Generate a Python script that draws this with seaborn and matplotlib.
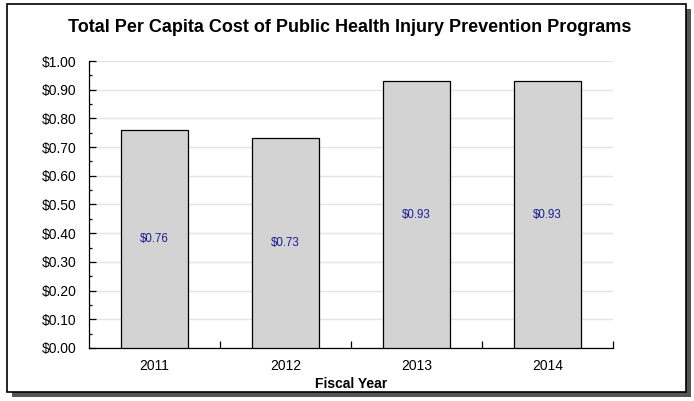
import matplotlib
matplotlib.use('Agg')
import matplotlib.pyplot as plt
import matplotlib.patches as patches
from matplotlib.ticker import MultipleLocator, FuncFormatter
import seaborn as sns
import pandas as pd

years = ['2011', '2012', '2013', '2014']
cost = [0.76, 0.73, 0.93, 0.93]

sns.set_style('white')
plt.rcParams['font.family'] = ['Liberation Sans', 'DejaVu Sans']
plt.rcParams['text.color'] = 'black'
plt.rcParams['axes.labelcolor'] = 'black'
plt.rcParams['xtick.color'] = 'black'
plt.rcParams['ytick.color'] = 'black'

df = pd.DataFrame({'Fiscal Year': years, 'Cost': cost})

fig = plt.figure(figsize=(6.94, 4.01), dpi=100)

# frame with drop shadow
fig.patches.append(patches.Rectangle((12 / 694, 1 - 397 / 401), 679 / 694, 388 / 401,
                                     transform=fig.transFigure, facecolor='#555555',
                                     edgecolor='none', zorder=0))
fig.patches.append(patches.Rectangle((7 / 694, 1 - 392 / 401), 679 / 694, 388 / 401,
                                     transform=fig.transFigure, facecolor='white',
                                     edgecolor='black', linewidth=1.2, zorder=1))

ax = fig.add_axes([89 / 694, 1 - 348 / 401, 524 / 694, 287 / 401])
ax.set_facecolor('none')
ax.set_zorder(5)

sns.barplot(data=df, x='Fiscal Year', y='Cost', color='#d3d3d3', edgecolor='black',
            linewidth=0.9, width=0.51, saturation=1, ax=ax, zorder=3)

for i, v in enumerate(cost):
    ax.text(i, v / 2, f'${v:.2f}', ha='center', va='center', fontsize=8.3,
            color='#1c1c94', zorder=4)

ax.set_ylim(0, 1.0)
ax.set_xlim(-0.5, 3.5)
ax.yaxis.set_major_locator(MultipleLocator(0.1))
ax.yaxis.set_minor_locator(MultipleLocator(0.05))
ax.yaxis.set_major_formatter(FuncFormatter(lambda v, p: f'${v:.2f}'))
ax.grid(axis='y', color='#e4e4e4', linewidth=1, zorder=0)
ax.set_axisbelow(True)

ax.tick_params(axis='y', which='major', direction='in', length=5, width=0.9,
               color='black', labelsize=10, pad=9, left=True)
ax.tick_params(axis='y', which='minor', direction='in', length=2.5, width=0.9,
               color='black', left=True)
ax.set_xticks([0.5, 1.5, 2.5, 3.5], minor=True)
ax.tick_params(axis='x', which='major', length=0, labelsize=10, pad=8)
ax.tick_params(axis='x', which='minor', direction='in', length=5, width=0.9,
               color='black', bottom=True)

for side in ['top', 'right']:
    ax.spines[side].set_visible(False)
for side in ['left', 'bottom']:
    ax.spines[side].set_color('black')
    ax.spines[side].set_linewidth(0.9)

ax.set_xlabel('Fiscal Year', fontsize=10, fontweight='bold', labelpad=3)
ax.set_ylabel('')

fig.text(350 / 694, 1 - 27 / 401, 'Total Per Capita Cost of Public Health Injury Prevention Programs',
         ha='center', va='center', fontsize=13, fontweight='bold', zorder=6)

fig.savefig('out.png', dpi=100)
